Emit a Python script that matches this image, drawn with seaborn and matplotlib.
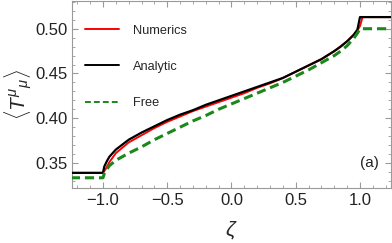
import matplotlib
matplotlib.use("Agg")
import matplotlib.pyplot as plt
from matplotlib.ticker import MultipleLocator
import pandas as pd
import seaborn as sns

# values
zeta_analytic = [-1.25, -1.0, -0.99, -0.97, -0.95, -0.9, -0.8, -0.7, -0.6, -0.5, -0.4, -0.3, -0.2, -0.1,
                 0.0, 0.1, 0.2, 0.3, 0.4, 0.5, 0.6, 0.7, 0.8, 0.85, 0.9, 0.95, 0.98, 1.0, 1.25]
analytic = [0.339, 0.339, 0.346, 0.352, 0.357, 0.365, 0.376, 0.384, 0.391, 0.398, 0.404, 0.409, 0.415, 0.420,
            0.425, 0.430, 0.435, 0.440, 0.445, 0.452, 0.459, 0.466, 0.475, 0.480, 0.486, 0.493, 0.499, 0.513, 0.513]

zeta_free = [-1.25, -1.0, -0.99, -0.97, -0.95, -0.9, -0.8, -0.7, -0.6, -0.5, -0.4, -0.3, -0.2, -0.1,
             0.0, 0.1, 0.2, 0.3, 0.4, 0.5, 0.6, 0.7, 0.8, 0.85, 0.9, 0.95, 0.98, 1.0, 1.25]
free = [0.3335, 0.3335, 0.338, 0.343, 0.347, 0.353, 0.361, 0.368, 0.376, 0.383, 0.390, 0.397, 0.403, 0.410,
        0.416, 0.422, 0.428, 0.434, 0.440, 0.447, 0.454, 0.462, 0.470, 0.475, 0.481, 0.489, 0.495, 0.500, 0.500]

zeta_num = [-1.25, -1.0, -0.98, -0.95, -0.9, -0.8, -0.7, -0.6, -0.5, -0.4, -0.3, -0.2, -0.1,
            0.0, 0.1, 0.2, 0.3, 0.4, 0.5, 0.6, 0.7, 0.8, 0.9, 0.95, 0.98, 1.0, 1.02, 1.25]
numerics = [0.339, 0.339, 0.343, 0.351, 0.361, 0.373, 0.381, 0.389, 0.396, 0.402, 0.408, 0.413, 0.418,
            0.423, 0.428, 0.434, 0.439, 0.445, 0.452, 0.459, 0.466, 0.475, 0.486, 0.493, 0.498, 0.503, 0.513, 0.513]

sns.set_style("ticks")
plt.rcParams["font.family"] = ["Liberation Sans", "DejaVu Sans"]
plt.rcParams["mathtext.fontset"] = "custom"
plt.rcParams["mathtext.rm"] = "Liberation Sans"
plt.rcParams["mathtext.it"] = "Liberation Sans:italic"

fig = plt.figure(figsize=(3.92, 2.43), dpi=100)
ax = fig.add_axes([0.184, 0.226, 0.813, 0.770])

df_num = pd.DataFrame({"zeta": zeta_num, "T": numerics})
df_an = pd.DataFrame({"zeta": zeta_analytic, "T": analytic})
df_free = pd.DataFrame({"zeta": zeta_free, "T": free})

sns.lineplot(data=df_num, x="zeta", y="T", ax=ax, color="#ff0000", lw=1.4, label="Numerics", zorder=2)
sns.lineplot(data=df_an, x="zeta", y="T", ax=ax, color="black", lw=1.6, label="Analytic", zorder=3)
sns.lineplot(data=df_free, x="zeta", y="T", ax=ax, color="#1a881a", lw=2.2, ls=(0, (3, 1.6)),
             label="Free", zorder=4)

ax.set_xlim(-1.24, 1.24)
ax.set_ylim(0.322, 0.531)
ax.xaxis.set_major_locator(MultipleLocator(0.5))
ax.xaxis.set_minor_locator(MultipleLocator(0.1))
ax.yaxis.set_major_locator(MultipleLocator(0.05))
ax.yaxis.set_minor_locator(MultipleLocator(0.01))
ax.xaxis.set_major_formatter(matplotlib.ticker.FuncFormatter(lambda v, p: f"{v:.1f}".replace("-", "\u2212")))
ax.yaxis.set_major_formatter(matplotlib.ticker.FuncFormatter(lambda v, p: f"{v:.2f}"))

ax.tick_params(which="both", direction="in", top=True, right=True, color="#9a9a9a",
               labelsize=12, labelcolor="#222222")
ax.tick_params(which="major", length=4, width=0.8)
ax.tick_params(which="minor", length=2, width=0.6)
for s in ax.spines.values():
    s.set_color("#9a9a9a")
    s.set_linewidth(0.8)

ax.set_xlabel(r"$\zeta$", fontsize=15, labelpad=8)
ax.set_ylabel(r"$\langle T^{\mu}{}_{\mu}\rangle$", fontsize=15, labelpad=1)

leg = ax.legend(loc="upper left", bbox_to_anchor=(0.0, 0.942), frameon=False, fontsize=9.2,
                handlelength=2.65, handletextpad=1.1, labelspacing=1.9, borderaxespad=0.6)
for h in leg.get_lines():
    h.set_linewidth(1.4)

ax.text(0.962, 0.135, "(a)", transform=ax.transAxes, ha="right", va="center", fontsize=11, color="#222222")

fig.savefig("out.png", dpi=100)
